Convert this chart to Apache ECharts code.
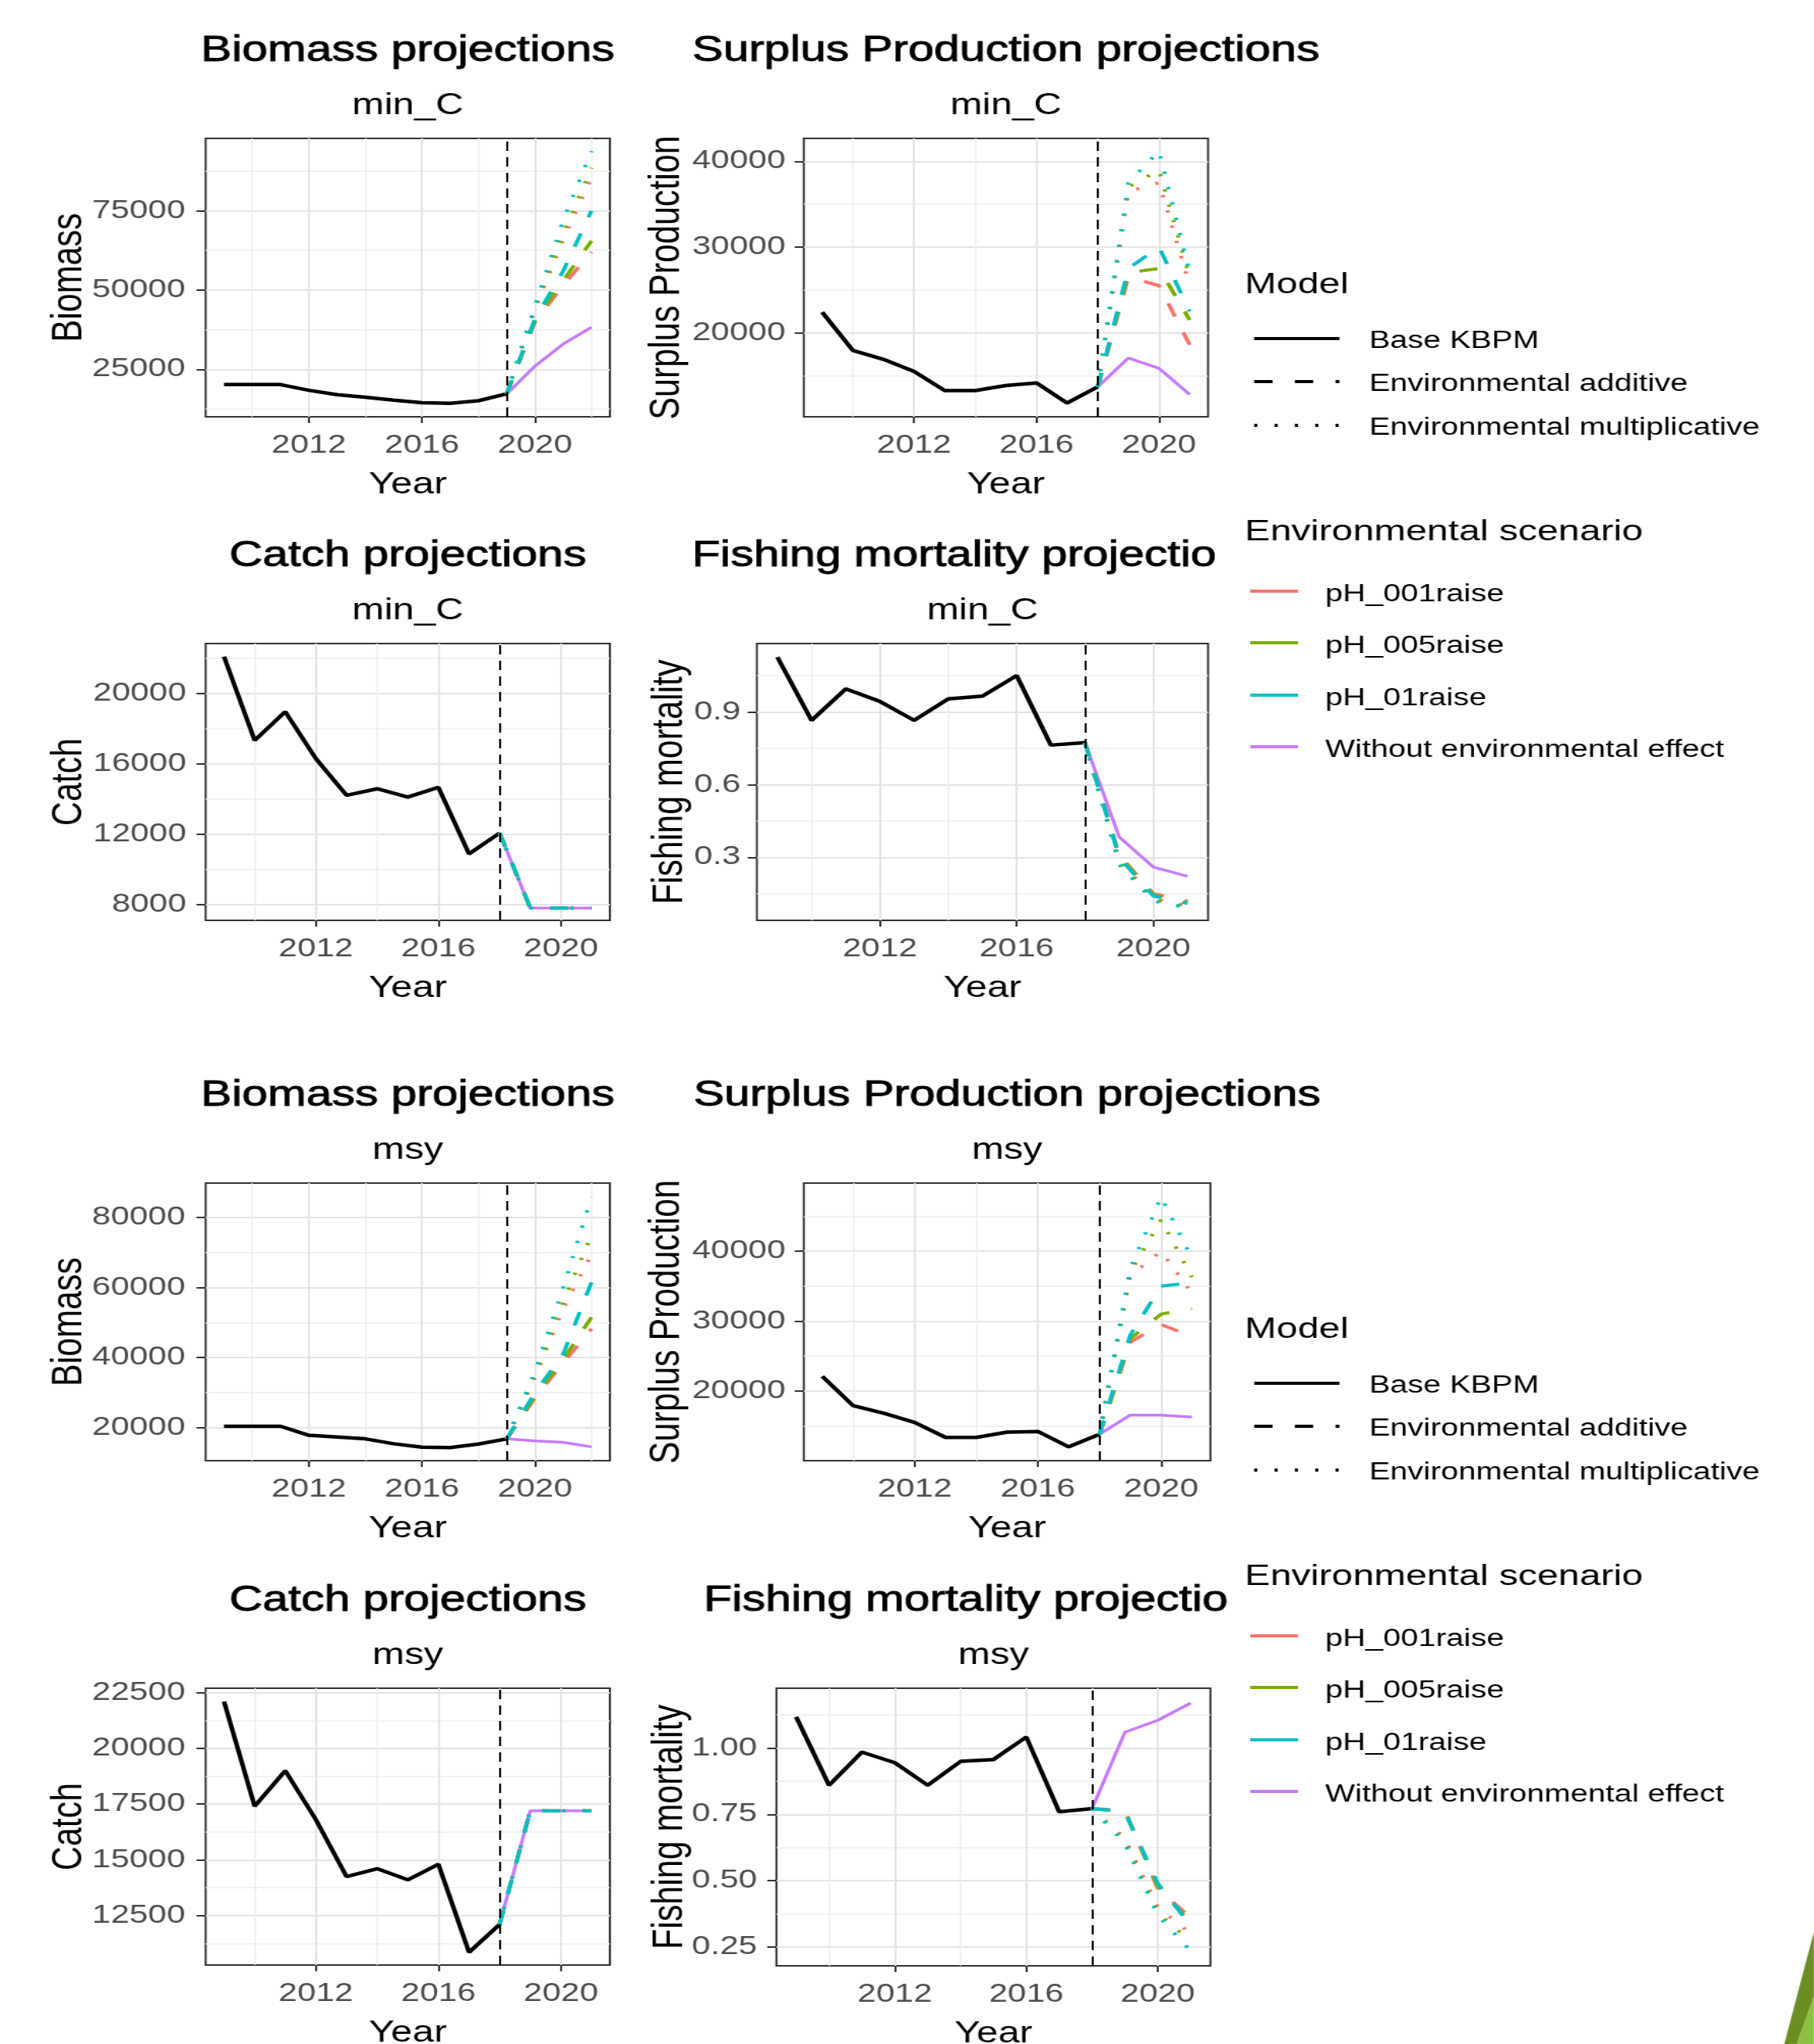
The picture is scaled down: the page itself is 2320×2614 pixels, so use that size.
<!DOCTYPE html>
<html>
<head>
<meta charset="utf-8">
<script src="https://cdn.jsdelivr.net/npm/echarts@6/dist/echarts.min.js"></script>
<style>
html,body{margin:0;padding:0;background:#fff;overflow:hidden;width:2320px;height:2614px;}
#chart{width:1785px;height:2614px;transform:scaleX(1.3);transform-origin:0 0;}
</style>
</head>
<body>
<div id="chart"></div>
<script>
// ================= DATA =================
const yearsHistB = [2009,2010,2011,2012,2013,2014,2015,2016,2017,2018,2019];
const yearsProjB = [2019,2020,2021,2022];
const yearsHist  = [2009,2010,2011,2012,2013,2014,2015,2016,2017,2018];
const yearsProj  = [2018,2019,2020,2021];

const scenarioNames = ['pH_001raise','pH_005raise','pH_01raise','Without environmental effect'];
const modelNames = ['Base KBPM','Environmental additive','Environmental multiplicative'];

// x tick labels / minor grid
const xTicks  = [2012,2016,2020];
const xMinorB = [2010,2014,2018,2022];
const xMinor  = [2010,2014,2018];

// ---- min_C : Biomass ----
const minC_B_base   = [20200,20200,20200,18400,17000,16200,15300,14500,14300,15100,17300];
const minC_B_none   = [17300,26000,33000,38300];
const minC_B_add001 = [17300,40000,51500,62000];
const minC_B_add005 = [17300,40500,53000,65500];
const minC_B_add01  = [17300,41000,56000,75000];
const minC_B_mul001 = [17300,44000,66000,85500];
const minC_B_mul005 = [17300,44500,68000,88500];
const minC_B_mul01  = [17300,45000,72000,93800];
// ---- min_C : Surplus production ----
const minC_SP_base   = [22400,17950,16900,15500,13250,13250,13850,14150,11800,13700];
const minC_SP_none   = [13700,17050,15850,12800];
const minC_SP_add001 = [13700,26500,25500,18600];
const minC_SP_add005 = [13700,27000,27500,21500];
const minC_SP_add01  = [13700,27500,30000,22500];
const minC_SP_mul001 = [13700,36500,37500,25500];
const minC_SP_mul005 = [13700,37000,39000,26500];
const minC_SP_mul01  = [13700,37500,41200,27000];
// ---- min_C : Catch ----
const minC_C_base   = [22100,17340,18970,16300,14220,14590,14120,14670,10890,12070];
const minC_C_none   = [12070,7810,7810,7810];
const minC_C_add001 = [12070,7810,7810,7810];
const minC_C_add005 = [12070,7810,7810,7810];
const minC_C_add01  = [12070,7810,7810,7810];
const minC_C_mul001 = [12070,7810,7810,7810];
const minC_C_mul005 = [12070,7810,7810,7810];
const minC_C_mul01  = [12070,7810,7810,7810];
// ---- min_C : Fishing mortality ----
const minC_F_base   = [1.126,0.865,0.995,0.943,0.865,0.954,0.965,1.05,0.763,0.773];
const minC_F_none   = [0.773,0.384,0.26,0.222];
const minC_F_add001 = [0.773,0.31,0.15,0.12];
const minC_F_add005 = [0.773,0.305,0.145,0.115];
const minC_F_add01  = [0.773,0.30,0.14,0.11];
const minC_F_mul001 = [0.773,0.29,0.13,0.10];
const minC_F_mul005 = [0.773,0.28,0.125,0.095];
const minC_F_mul01  = [0.773,0.27,0.12,0.092];

// ---- msy : Biomass ----
const msy_B_base   = [20400,20400,20400,17800,17300,16800,15400,14400,14300,15300,16800];
const msy_B_none   = [16800,16200,15800,14500];
const msy_B_add001 = [16800,28500,38500,48200];
const msy_B_add005 = [16800,29000,39500,51500];
const msy_B_add01  = [16800,30000,41000,61500];
const msy_B_mul001 = [16800,34500,54000,69500];
const msy_B_mul005 = [16800,35000,56000,75000];
const msy_B_mul01  = [16800,36000,60000,85800];
// ---- msy : Surplus production ----
const msy_SP_base   = [22100,17900,16800,15500,13350,13350,14100,14200,12000,13800];
const msy_SP_none   = [13800,16550,16550,16250];
const msy_SP_add001 = [13800,27000,29500,27800];
const msy_SP_add005 = [13800,27500,31000,31800];
const msy_SP_add01  = [13800,28000,35000,35500];
const msy_SP_mul001 = [13800,36500,40000,34000];
const msy_SP_mul005 = [13800,37000,44500,36300];
const msy_SP_mul01  = [13800,37500,47800,39000];
// ---- msy : Catch ----
const msy_C_base   = [22100,17400,19000,16800,14250,14600,14100,14800,10850,12100];
const msy_C_none   = [12100,17200,17200,17200];
const msy_C_add001 = [12100,17200,17200,17200];
const msy_C_add005 = [12100,17200,17200,17200];
const msy_C_add01  = [12100,17200,17200,17200];
const msy_C_mul001 = [12100,17200,17200,17200];
const msy_C_mul005 = [12100,17200,17200,17200];
const msy_C_mul01  = [12100,17200,17200,17200];
// ---- msy : Fishing mortality ----
const msy_F_base   = [1.118,0.86,0.985,0.945,0.86,0.95,0.957,1.042,0.76,0.772];
const msy_F_none   = [0.772,1.06,1.105,1.17];
const msy_F_add001 = [0.772,0.765,0.47,0.36];
const msy_F_add005 = [0.772,0.76,0.48,0.34];
const msy_F_add01  = [0.772,0.76,0.49,0.33];
const msy_F_mul001 = [0.772,0.66,0.40,0.30];
const msy_F_mul005 = [0.772,0.65,0.38,0.27];
const msy_F_mul01  = [0.772,0.64,0.37,0.235];

// y tick labels and minor grid values
const yTicks_minC_B  = [25000,50000,75000];
const yMinor_minC_B  = [12500,37500,62500,87500];
const yTicks_minC_SP = [20000,30000,40000];
const yMinor_minC_SP = [15000,25000,35000];
const yTicks_minC_C  = [8000,12000,16000,20000];
const yMinor_minC_C  = [10000,14000,18000,22000];
const yTicks_minC_F  = [0.3,0.6,0.9];
const yMinor_minC_F  = [0.15,0.45,0.75,1.05];
const yTicks_msy_B   = [20000,40000,60000,80000];
const yMinor_msy_B   = [30000,50000,70000];
const yTicks_msy_SP  = [20000,30000,40000];
const yMinor_msy_SP  = [15000,25000,35000,45000];
const yTicks_msy_C   = [12500,15000,17500,20000,22500];
const yMinor_msy_C   = [11250,13750,16250,18750,21250];
const yTicks_msy_F   = [0.25,0.50,0.75,1.00];
const yMinor_msy_F   = [0.375,0.625,0.875,1.125];

// ================= LAYOUT / STYLE =================
const S = 1.3;                    // horizontal stretch of the reference
const X = v => v / S;
const FONT = '"Liberation Sans", Arial, sans-serif';
const COL = {red:'#F8766D', green:'#7CAE00', cyan:'#00BFC4', purple:'#C77CFF'};
const DASH = [18, 22], DOT = [3, 17];
const TICK_FS = 33, YTITLE_FS = 43;

const panels = [
  {title:'Biomass projections', sub:'min_C', yName:'Biomass', l:263,r:780,t:177,b:533,
   xmin:2008.35,xmax:2022.65,xMinor:xMinorB,ymin:10050,ymax:97800,yT:yTicks_minC_B,yM:yMinor_minC_B,dec:0,lm:20,yTX:88,
   vline:2019,hist:yearsHistB,proj:yearsProjB,
   d:[minC_B_base,minC_B_none,minC_B_add001,minC_B_mul001,minC_B_add005,minC_B_mul005,minC_B_add01,minC_B_mul01]},
  {title:'Surplus Production projections', sub:'min_C', yName:'Surplus Production', l:1028,r:1545,t:177,b:533,
   xmin:2008.4,xmax:2021.6,xMinor:xMinor,ymin:10200,ymax:42670,yT:yTicks_minC_SP,yM:yMinor_minC_SP,dec:0,lm:18,yTX:853,
   vline:2018,hist:yearsHist,proj:yearsProj,
   d:[minC_SP_base,minC_SP_none,minC_SP_add001,minC_SP_mul001,minC_SP_add005,minC_SP_mul005,minC_SP_add01,minC_SP_mul01]},
  {title:'Catch projections', sub:'min_C', yName:'Catch', l:263,r:780,t:823,b:1177,
   xmin:2008.4,xmax:2021.6,xMinor:xMinor,ymin:7111,ymax:22844,yT:yTicks_minC_C,yM:yMinor_minC_C,dec:0,lm:19,yTX:88,
   vline:2018,hist:yearsHist,proj:yearsProj,
   d:[minC_C_base,minC_C_none,minC_C_add001,minC_C_mul001,minC_C_add005,minC_C_mul005,minC_C_add01,minC_C_mul01]},
  {title:'Fishing mortality projections', sub:'min_C', yName:'Fishing mortality', l:968,r:1545,t:823,b:1177,
   xmin:2008.4,xmax:2021.6,xMinor:xMinor,ymin:0.040,ymax:1.182,yT:yTicks_minC_F,yM:yMinor_minC_F,dec:1,lm:16,yTX:857,
   vline:2018,hist:yearsHist,proj:yearsProj,clipStart:885,clipEnd:1572,
   d:[minC_F_base,minC_F_none,minC_F_add001,minC_F_mul001,minC_F_add005,minC_F_mul005,minC_F_add01,minC_F_mul01]},
  {title:'Biomass projections', sub:'msy', yName:'Biomass', l:263,r:780,t:1513,b:1868,
   xmin:2008.35,xmax:2022.65,xMinor:xMinorB,ymin:10570,ymax:89800,yT:yTicks_msy_B,yM:yMinor_msy_B,dec:0,lm:20,yTX:88,
   vline:2019,hist:yearsHistB,proj:yearsProjB,
   d:[msy_B_base,msy_B_none,msy_B_add001,msy_B_mul001,msy_B_add005,msy_B_mul005,msy_B_add01,msy_B_mul01]},
  {title:'Surplus Production projections', sub:'msy', yName:'Surplus Production', l:1028,r:1548,t:1513,b:1868,
   xmin:2008.4,xmax:2021.6,xMinor:xMinor,ymin:10020,ymax:49760,yT:yTicks_msy_SP,yM:yMinor_msy_SP,dec:0,lm:18,yTX:853,
   vline:2018,hist:yearsHist,proj:yearsProj,
   d:[msy_SP_base,msy_SP_none,msy_SP_add001,msy_SP_mul001,msy_SP_add005,msy_SP_mul005,msy_SP_add01,msy_SP_mul01]},
  {title:'Catch projections', sub:'msy', yName:'Catch', l:263,r:780,t:2159,b:2513,
   xmin:2008.4,xmax:2021.6,xMinor:xMinor,ymin:10277,ymax:22700,yT:yTicks_msy_C,yM:yMinor_msy_C,dec:0,lm:20,yTX:88,
   vline:2018,hist:yearsHist,proj:yearsProj,
   d:[msy_C_base,msy_C_none,msy_C_add001,msy_C_mul001,msy_C_add005,msy_C_mul005,msy_C_add01,msy_C_mul01]},
  {title:'Fishing mortality projections', sub:'msy', yName:'Fishing mortality', l:993,r:1548,t:2159,b:2514,
   xmin:2008.4,xmax:2021.6,xMinor:xMinor,ymin:0.179,ymax:1.226,yT:yTicks_msy_F,yM:yMinor_msy_F,dec:2,lm:19,yTX:857,
   vline:2018,hist:yearsHist,proj:yearsProj,clipStart:900,clipEnd:1585,
   d:[msy_F_base,msy_F_none,msy_F_add001,msy_F_mul001,msy_F_add005,msy_F_mul005,msy_F_add01,msy_F_mul01]}
];

const pairs = (xs, ys) => xs.map((x, i) => [x, ys[i]]);

const grids = [], xAxes = [], yAxes = [], series = [], graphics = [];

function text(xFull, y, str, size, o) {
  o = o || {};
  const st = {text:str, fontSize:size, fontFamily:FONT, fill:o.fill||'#000',
              align:o.align||'center', verticalAlign:'middle'};
  if (o.bold) { st.stroke = o.fill || '#000'; st.lineWidth = o.bold; }
  if (o.width) { st.width = o.width; st.overflow = 'truncate'; st.ellipsis = ''; }
  return {type:'text', x:X(xFull), y:y, rotation:o.rot||0, style:st, z:o.z||10};
}

panels.forEach((p, i) => {
  grids.push({left:X(p.l), top:p.t, width:X(p.r)-X(p.l), height:p.b-p.t,
              show:true, borderColor:'#333', borderWidth:2, backgroundColor:'transparent'});
  const fmt = v => p.dec ? Number(v).toFixed(p.dec) : String(Math.round(v));
  // major x
  xAxes.push({type:'value', gridIndex:i, min:p.xmin, max:p.xmax, position:'bottom',
    axisLine:{show:false, onZero:false},
    axisTick:{show:true, customValues:xTicks, length:8, lineStyle:{color:'#333', width:2}},
    axisLabel:{show:true, customValues:xTicks, margin:20, fontSize:TICK_FS, fontFamily:FONT, color:'#4D4D4D',
               formatter:v => String(Math.round(v))},
    splitLine:{show:true, lineStyle:{color:'#E4E4E4', width:2}}});
  // minor x
  xAxes.push({type:'value', gridIndex:i, min:p.xmin, max:p.xmax, position:'top',
    axisLine:{show:false, onZero:false}, axisTick:{show:false, customValues:p.xMinor},
    axisLabel:{show:false}, splitLine:{show:true, lineStyle:{color:'#EEEEEE', width:1.5}}});
  // major y
  yAxes.push({type:'value', gridIndex:i, min:p.ymin, max:p.ymax, position:'left',
    axisLine:{show:false, onZero:false},
    axisTick:{show:true, customValues:p.yT, length:9, lineStyle:{color:'#333', width:2}},
    axisLabel:{show:true, customValues:p.yT, margin:p.lm, fontSize:TICK_FS, fontFamily:FONT, color:'#4D4D4D', formatter:fmt},
    splitLine:{show:true, lineStyle:{color:'#E4E4E4', width:2}}});
  // minor y
  yAxes.push({type:'value', gridIndex:i, min:p.ymin, max:p.ymax, position:'right',
    axisLine:{show:false, onZero:false}, axisTick:{show:false, customValues:p.yM},
    axisLabel:{show:false}, splitLine:{show:true, lineStyle:{color:'#EEEEEE', width:1.5}}});

  const xi = 2*i, yi = 2*i;
  series.push({type:'line', name:modelNames[0], xAxisIndex:xi, yAxisIndex:yi, data:pairs(p.hist, p.d[0]),
    symbol:'none', silent:true, z:3, lineStyle:{color:'#000', width:4.5},
    markLine:{silent:true, symbol:['none','none'], label:{show:false}, animation:false,
      lineStyle:{color:'#000', width:2, type:[12,8]}, data:[{xAxis:p.vline}]}});
  series.push({type:'line', name:scenarioNames[3], xAxisIndex:xi, yAxisIndex:yi, data:pairs(p.proj, p.d[1]),
    symbol:'none', silent:true, z:3, lineStyle:{color:COL.purple, width:3.5}});
  const scCols = [COL.red, COL.green, COL.cyan];
  for (let s = 0; s < 3; s++) {
    series.push({type:'line', name:scenarioNames[s]+' / '+modelNames[1], xAxisIndex:xi, yAxisIndex:yi,
      data:pairs(p.proj, p.d[2+2*s]), symbol:'none', silent:true, z:4,
      lineStyle:{color:scCols[s], width:4, type:DASH}});
    series.push({type:'line', name:scenarioNames[s]+' / '+modelNames[2], xAxisIndex:xi, yAxisIndex:yi,
      data:pairs(p.proj, p.d[3+2*s]), symbol:'none', silent:true, z:4,
      lineStyle:{color:scCols[s], width:4, type:DOT}});
  }

  // titles
  const cx = (p.l + p.r) / 2;
  if (p.clipStart) {
    graphics.push(text(p.clipStart, p.t - 112, p.title, 45.5,
      {align:'left', width:X(p.clipEnd) - X(p.clipStart), bold:0.9}));
  } else {
    graphics.push(text(cx, p.t - 112, p.title, 45.5, {bold:0.9}));
  }
  graphics.push(text(cx, p.t - 41, p.sub, 38));
  graphics.push(text(cx, p.b + 88, 'Year', 38));
  graphics.push(text(p.yTX, (p.t + p.b) / 2, p.yName, YTITLE_FS, {rot:Math.PI/2}));
});

// legends (two copies)
[0, 1336].forEach(off => {
  graphics.push(text(1592, 365 + off, 'Model', 37.5, {align:'left'}));
  const mY = [433, 488, 544];
  const mDash = [null, DASH, DOT];
  modelNames.forEach((m, k) => {
    graphics.push({type:'line', z:10, shape:{x1:X(1604), y1:mY[k]+off, x2:X(1713), y2:mY[k]+off},
      style:{stroke:'#000', lineWidth:4, lineDash:mDash[k] || null}});
    graphics.push(text(1751, mY[k] + 3 + off, m, 31, {align:'left'}));
  });
  graphics.push(text(1592, 681 + off, 'Environmental scenario', 37.5, {align:'left'}));
  const sY = [756, 822, 889, 955];
  const sCol = [COL.red, COL.green, COL.cyan, COL.purple];
  scenarioNames.forEach((s, k) => {
    graphics.push({type:'line', z:10, shape:{x1:X(1599), y1:sY[k]+off, x2:X(1660), y2:sY[k]+off},
      style:{stroke:sCol[k], lineWidth:4}});
    graphics.push(text(1695, sY[k] + 4 + off, s, 31, {align:'left'}));
  });
});

// slide decoration in bottom-right corner
graphics.push({type:'polygon', z:1, shape:{points:[[X(2320),2470],[X(2320),2553],[X(2298),2614],[X(2282),2614]]},
  style:{fill:'#6B8E23'}});
graphics.push({type:'polygon', z:1, shape:{points:[[X(2320),2553],[X(2320),2614],[X(2298),2614]]},
  style:{fill:'#8DC03F'}});

const chart = echarts.init(document.getElementById('chart'), null, {renderer:'canvas'});
chart.setOption({
  animation:false,
  backgroundColor:'#fff',
  textStyle:{fontFamily:FONT},
  grid:grids, xAxis:xAxes, yAxis:yAxes, series:series, graphic:graphics
});
</script>
</body>
</html>
